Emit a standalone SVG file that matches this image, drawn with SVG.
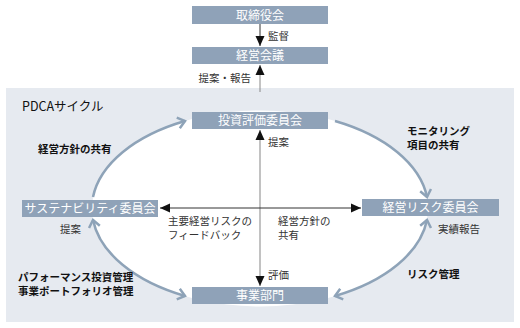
<svg xmlns="http://www.w3.org/2000/svg" width="520" height="328" viewBox="0 0 520 328">
<style>
.box{fill:#8fa2b8}
.bt{font-family:"Noto Sans CJK JP","Noto Sans",sans-serif;font-size:12px;fill:#fff;text-anchor:middle}
.lb{font-family:"Noto Sans CJK JP","Noto Sans",sans-serif;font-size:10.5px;fill:#333}
.lk{font-family:"Noto Sans CJK JP","Noto Sans",sans-serif;font-size:10.5px;fill:#111;font-weight:bold}
.ring{fill:none;stroke:#8ea3b8;stroke-width:2.5}
</style>
<defs>
<marker id="chev" markerUnits="userSpaceOnUse" markerWidth="14" markerHeight="14" refX="10" refY="7" orient="auto-start-reverse" viewBox="0 0 14 14">
<path d="M3,1.5 L10,7 L3,12.5" fill="none" stroke="#8ea3b8" stroke-width="2.5"/>
</marker>
<marker id="tri" markerUnits="userSpaceOnUse" markerWidth="10" markerHeight="10" refX="10" refY="5" orient="auto-start-reverse" viewBox="0 0 10 10">
<path d="M0,0.5 L10,5 L0,9.5 Z" fill="#111"/>
</marker>
</defs>
<rect x="6" y="88" width="508" height="234" fill="#e6eaf0"/>
<ellipse cx="260" cy="208.5" rx="168" ry="98" fill="#fff"/>
<g id="connectors">
<line x1="260" y1="24" x2="260" y2="46" stroke="#333" stroke-width="1" marker-end="url(#tri)"/>
<line x1="260" y1="92" x2="260" y2="65" stroke="#888" stroke-width="1" marker-end="url(#tri)"/>
<line x1="260" y1="286" x2="260" y2="130" stroke="#999" stroke-width="1.2" marker-start="url(#tri)" marker-end="url(#tri)"/>
<line x1="160" y1="208" x2="361" y2="208" stroke="#333" stroke-width="1" marker-start="url(#tri)" marker-end="url(#tri)"/>
<path class="ring" d="M93,197 A168,98 0 0 1 185,121" marker-end="url(#chev)"/>
<path class="ring" d="M335,121 A168,98 0 0 1 427,197" marker-end="url(#chev)"/>
<path class="ring" d="M427,220 A168,98 0 0 1 335,296" marker-start="url(#chev)" marker-end="url(#chev)"/>
<path class="ring" d="M185,296 A168,98 0 0 1 93,220" marker-start="url(#chev)" marker-end="url(#chev)"/>
</g>
<g id="board"><rect class="box" x="192" y="6" width="136" height="18"/><text class="bt" x="260" y="19.5">取締役会</text></g>
<g id="mgmt"><rect class="box" x="192" y="47" width="136" height="17"/><text class="bt" x="260" y="60">経営会議</text></g>
<g id="invest"><rect class="box" x="192" y="112" width="136" height="17"/><text class="bt" x="260" y="125">投資評価委員会</text></g>
<g id="biz"><rect class="box" x="192" y="287" width="136" height="17"/><text class="bt" x="260" y="300">事業部門</text></g>
<g id="sustain"><rect class="box" x="22" y="200" width="136" height="17"/><text class="bt" x="90" y="213">サステナビリティ委員会</text></g>
<g id="risk"><rect class="box" x="362" y="199" width="137" height="17"/><text class="bt" x="430.5" y="212">経営リスク委員会</text></g>
<g id="labels">
<text class="lb" x="268" y="40">監督</text>
<text class="lb" x="251" y="82" text-anchor="end">提案・報告</text>
<text x="22" y="111" font-family="'Noto Sans CJK JP','Noto Sans',sans-serif" font-size="12.5" fill="#111">PDCAサイクル</text>
<text class="lk" x="38" y="153">経営方針の共有</text>
<text class="lk" x="407" y="135">モニタリング</text>
<text class="lk" x="407" y="149">項目の共有</text>
<text class="lb" x="268" y="146">提案</text>
<text class="lb" x="168" y="225">主要経営リスクの</text>
<text class="lb" x="168" y="238.5">フィードバック</text>
<text class="lb" x="278" y="225">経営方針の</text>
<text class="lb" x="278" y="238.5">共有</text>
<text class="lb" x="60" y="233">提案</text>
<text class="lb" x="438" y="233">実績報告</text>
<text class="lb" x="268" y="279">評価</text>
<text class="lk" x="407" y="278">リスク管理</text>
<text class="lk" x="18" y="281">パフォーマンス投資管理</text>
<text class="lk" x="18" y="294.5">事業ポートフォリオ管理</text>
</g>
</svg>
